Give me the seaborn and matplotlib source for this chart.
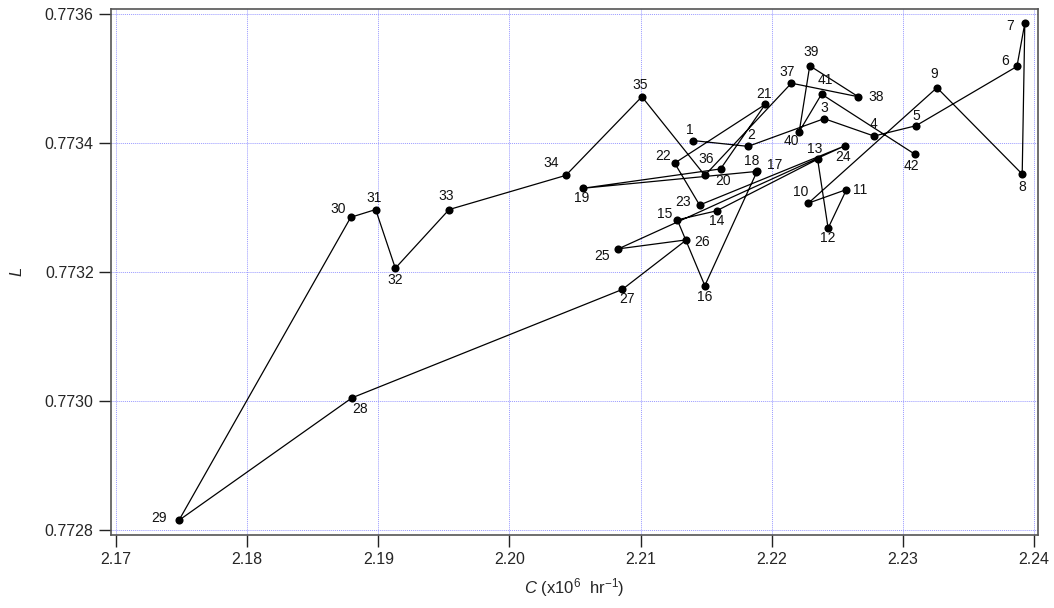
import matplotlib
matplotlib.use("Agg")
import matplotlib.pyplot as plt
from matplotlib.ticker import FormatStrFormatter, FixedLocator
import seaborn as sns
import pandas as pd

# ---- data ----
labels = [str(i) for i in range(1, 43)]
c_vals = [2.2140, 2.2182, 2.2240, 2.2278, 2.2310, 2.2387, 2.2393, 2.2391, 2.2326, 2.2228,
          2.2257, 2.2243, 2.2235, 2.2158, 2.2128, 2.2149, 2.2189, 2.2188, 2.2056, 2.2161,
          2.2195, 2.2126, 2.2145, 2.2256, 2.2083, 2.2135, 2.2086, 2.1880, 2.1748, 2.1879,
          2.1898, 2.1913, 2.1954, 2.2043, 2.2101, 2.2149, 2.2215, 2.2266, 2.2229, 2.2221,
          2.2238, 2.2309]
l_vals = [0.773404, 0.773395, 0.773438, 0.773411, 0.773427, 0.773519, 0.773586, 0.773352,
          0.773486, 0.773307, 0.773328, 0.773268, 0.773375, 0.773295, 0.773281, 0.773179,
          0.773357, 0.773356, 0.773330, 0.773360, 0.773460, 0.773369, 0.773304, 0.773396,
          0.773236, 0.773250, 0.773173, 0.773005, 0.772815, 0.773285, 0.773297, 0.773206,
          0.773297, 0.773350, 0.773472, 0.773350, 0.773493, 0.773472, 0.773520, 0.773418,
          0.773476, 0.773383]
x_ticks = [2.17, 2.18, 2.19, 2.20, 2.21, 2.22, 2.23, 2.24]
y_ticks = [0.7728, 0.7730, 0.7732, 0.7734, 0.7736]

# label offsets in pixels (dx, dy up-positive)
label_offsets = [(-3, 11), (3, 11), (0, 11), (-1, 12), (0, 10), (-12, 5), (-15, -3), (0, -13),
                 (-3, 14), (-8, 11), (14, 0), (0, -10), (-3, 10), (0, -10), (-13, 6), (0, -11),
                 (17, 6), (-4, 11), (-1, -10), (2, -12), (-1, 10), (-12, 7), (-17, 3), (-2, -11),
                 (-16, -7), (16, -2), (5, -10), (8, -11), (-20, 2), (-13, 8), (-2, 12), (0, -12),
                 (-3, 14), (-15, 12), (-2, 12), (1, 16), (-4, 11), (18, 0), (1, 14), (-8, -9),
                 (4, 14), (-3, -12)]

df = pd.DataFrame({"C": c_vals, "L": l_vals, "order": range(len(c_vals))})

sns.set_style("ticks")
plt.rcParams["font.family"] = ["Liberation Sans", "DejaVu Sans"]
plt.rcParams["mathtext.fontset"] = "custom"
plt.rcParams["mathtext.rm"] = "Liberation Sans"
plt.rcParams["mathtext.it"] = "Liberation Sans:italic"

fig = plt.figure(figsize=(10.54, 6.08), dpi=100)
ax = fig.add_axes([111 / 1054, 1 - 535 / 608, 927 / 1054, (535 - 9.3) / 608])

sns.lineplot(data=df, x="C", y="L", sort=False, estimator=None, color="black",
             linewidth=0.9, ax=ax, zorder=3)
sns.scatterplot(data=df, x="C", y="L", color="black", s=34, edgecolor="black",
                linewidth=0, ax=ax, zorder=4)

for lab, cx, ly, (dx, dy) in zip(labels, c_vals, l_vals, label_offsets):
    ax.annotate(lab, (cx, ly), xytext=(dx, dy), textcoords="offset pixels",
                ha="center", va="center", fontsize=10, color="#111111", zorder=5)

ax.set_xlim(2.169619, 2.240305)
ax.set_ylim(0.7727922, 0.7736076)
ax.xaxis.set_major_locator(FixedLocator(x_ticks))
ax.yaxis.set_major_locator(FixedLocator(y_ticks))
ax.xaxis.set_major_formatter(FormatStrFormatter("%.2f"))
ax.yaxis.set_major_formatter(FormatStrFormatter("%.4f"))

ax.grid(True, color="#9a9aff", linestyle=(0, (1, 1)), linewidth=0.7, zorder=0)
ax.set_axisbelow(True)

ax.tick_params(direction="out", length=8.5, width=1, color="#222222",
               labelsize=11.5, pad=4)
for side in ["left", "bottom", "right", "top"]:
    ax.spines[side].set_visible(True)
    ax.spines[side].set_color("#555555")
    ax.spines[side].set_linewidth(1.2)

ax.set_xlabel(r"$C$ (x10$^{6}$  hr$^{-1}$)", fontsize=12, labelpad=6)
ax.set_ylabel(r"$L$", fontsize=12, labelpad=14)

fig.savefig("out.png", dpi=100)
